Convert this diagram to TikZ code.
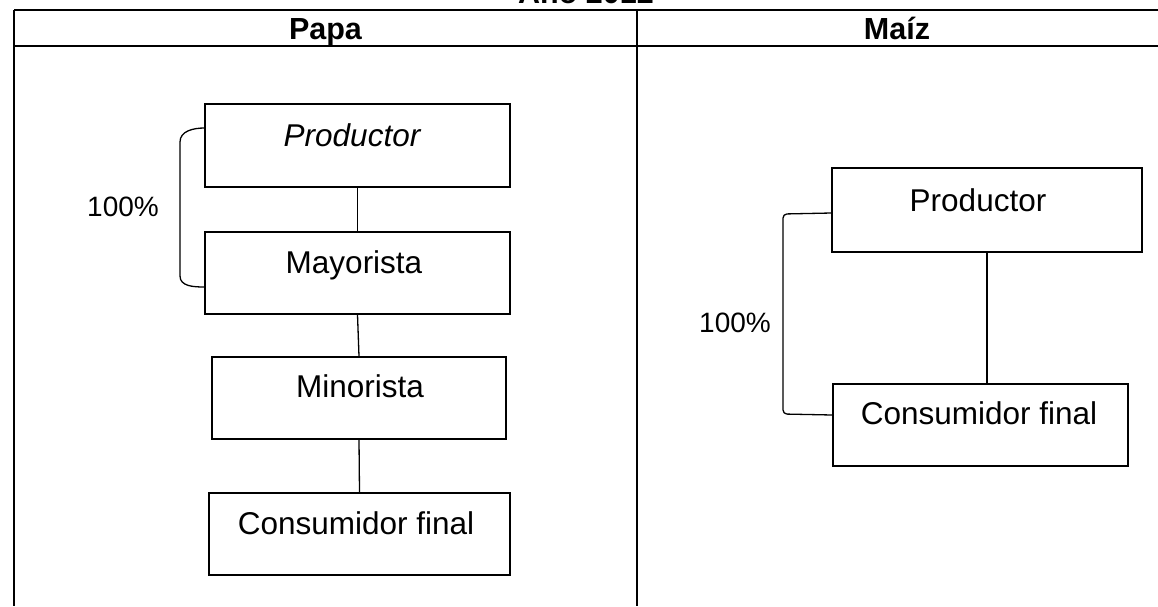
\documentclass[tikz,border=0pt]{standalone}
\usepackage{fontspec}
\setmainfont{Liberation Sans}
\begin{document}
\begin{tikzpicture}[x=1pt,y=-1pt,
  box/.style={draw, line width=1.3pt, rectangle, inner sep=0pt},
  txt/.style={font=\fontsize{31.5}{36}\selectfont, inner sep=0pt, anchor=base},
  pct/.style={font=\fontsize{28}{32}\selectfont, inner sep=0pt, anchor=base},
  head/.style={font=\bfseries\fontsize{30.5}{34}\selectfont, inner sep=0pt, anchor=base},
  rule/.style={line width=1.6pt},
  conn/.style={line width=1.3pt}]
\useasboundingbox (0,0) rectangle (1158,606);

% table
\draw[rule] (14,10) -- (1158,10);
\draw[rule] (14,46) -- (1158,46);
\draw[rule] (14,10) -- (14,606);
\draw[rule] (637,10) -- (637,606);
\node[head] (title) at (586,3) {Año 2012};
\node[head] (hpapa) at (325.5,39) {Papa};
\node[head] (hmaiz) at (897,39) {Maíz};

% Papa column
\node[box, minimum width=305pt, minimum height=83pt] (p1) at (357.5,145.5) {};
\node[box, minimum width=305pt, minimum height=82pt] (p2) at (357.5,273) {};
\node[box, minimum width=294pt, minimum height=82pt] (p3) at (359,398) {};
\node[box, minimum width=301pt, minimum height=82pt] (p4) at (359.5,534) {};
\node[txt] (t1) at (352,146) {\itshape Productor};
\node[txt] (t2) at (354,273) {Mayorista};
\node[txt] (t3) at (360,397) {Minorista};
\node[txt] (t4) at (356,534) {Consumidor final};
\draw[conn] (p1.south) -- (p2.north);
\draw[conn] (p2.south) -- (p3.north);
\draw[conn] (p3.south) -- (p4.north);
\draw[conn] ([yshift=17.5pt]p1.west) to[out=180,in=90] (180,142) -- (180,276) to[out=-90,in=180] ([yshift=-14pt]p2.west);
\node[pct] (pc1) at (123,216) {100\%};

% Maiz column
\node[box, minimum width=310pt, minimum height=84pt] (m1) at (987,210) {};
\node[box, minimum width=295pt, minimum height=82pt] (m2) at (980.5,425) {};
\node[txt] (u1) at (978,211) {Productor};
\node[txt] (u2) at (979,424) {Consumidor final};
\draw[conn] (m1.south) -- (m1.south |- m2.north);
\draw[conn, rounded corners=4pt] ([yshift=-3pt]m1.west) -- (783,214) -- (783,414) -- ([yshift=10pt]m2.west);
\node[pct] (pc2) at (735,332) {100\%};
\end{tikzpicture}
\end{document}
